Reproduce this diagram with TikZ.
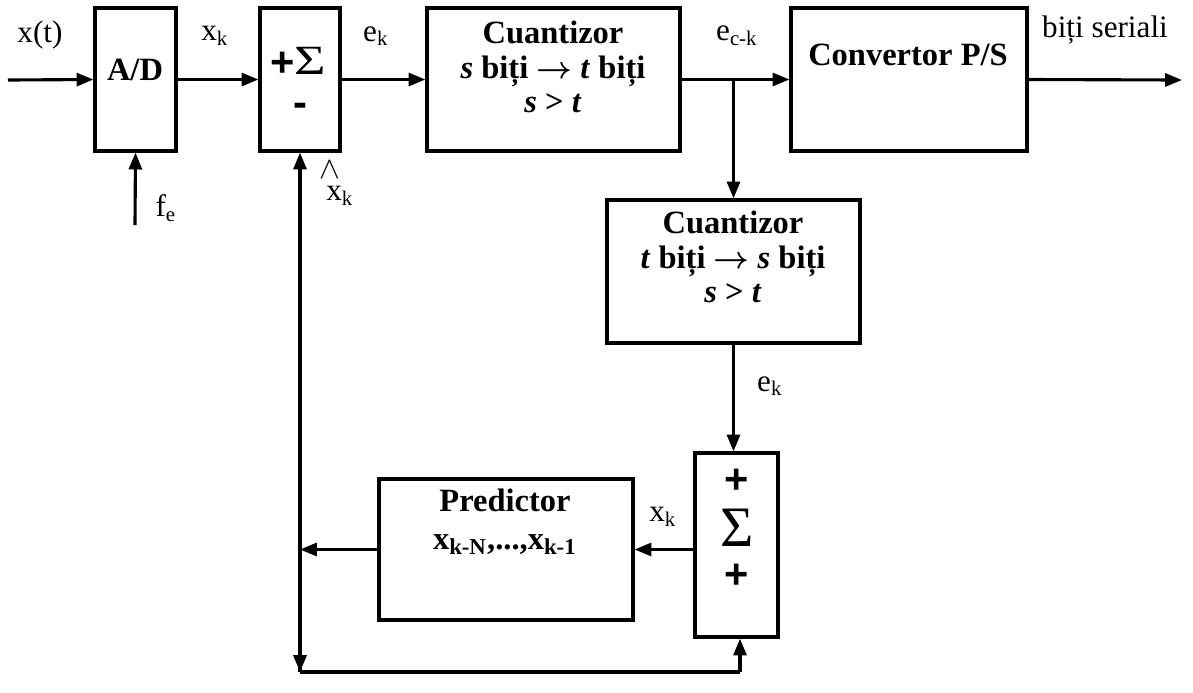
\documentclass[tikz,border=0pt]{standalone}
\usepackage{fontspec}
\setmainfont{Liberation Serif}
\setsansfont{Liberation Sans}
\usepackage{tikz}
\usetikzlibrary{arrows.meta, fit}
\tikzstyle{arrow} = [line width=1.2pt,-{Triangle[length=6.5pt,width=5pt]}]
\tikzstyle{wire} = [line width=1.2pt]
\tikzstyle{block} = [draw, line width=1.2pt, inner sep=0pt]
\tikzstyle{txt} = [inner sep=0pt, font=\fontsize{12pt}{14pt}\selectfont]
\tikzstyle{btxt} = [inner sep=0pt, align=center, font=\fontsize{12.5pt}{13.2pt}\selectfont\bfseries]
\tikzstyle{sgn} = [inner sep=0pt, font=\fontsize{16pt}{16pt}\selectfont\sffamily\bfseries]

\begin{document}
\begin{tikzpicture}[x=0.3846pt, y=-0.3846pt]
                \useasboundingbox (0,0) rectangle (1193,692);

                % blocks
                \node (ad) [block, fit={(95,8) (176,151)}] {};
                \node (sig1) [block, fit={(260,8) (340,151)}] {};
                \node (cq1) [block, fit={(427,8) (680,151)}] {};
                \node (conv) [block, fit={(791,8) (1027,151)}] {};
                \node (cq2) [block, fit={(607,200) (860,343)}] {};
                \node (sig2) [block, fit={(695,453) (778,637)}] {};
                \node (pred) [block, fit={(379,479) (633,620)}] {};

                % texts inside the blocks
                \node (tad) [btxt] at (135,70) {A/D};
                \node (tsig1a) [sgn] at (283,64) {+};
                \node (tsig1b) [txt, font=\fontsize{16pt}{16pt}\selectfont, xscale=1.3] at (310,61) {Σ};
                \node (tsig1c) [sgn] at (300,110) {-};
                \node (tcq1) [btxt] at (553,67) {Cuantizor\\\textit{s} biți {\boldmath$\rightarrow$} \textit{t} biți\\\textit{s} > \textit{t}};
                \node (tconv) [btxt] at (908,55) {Convertor P/S};
                \node (tcq2) [btxt] at (733,257) {Cuantizor\\\textit{t} biți {\boldmath$\rightarrow$} \textit{s} biți\\\textit{s} > \textit{t}};
                \node (tsig2a) [sgn] at (737,481) {+};
                \node (tsig2b) [txt, font=\fontsize{22pt}{22pt}\selectfont] at (737,528) {Σ};
                \node (tsig2c) [sgn] at (737,576) {+};
                \node (tpred) [btxt] at (505,500) {Predictor};
                \node (tpredx) [btxt] at (505,545) {x\textsubscript{k-N},...,x\textsubscript{k-1}};

                % signal labels
                \node (lx) [txt] at (40,35) {x(t)};
                \node (lxk) [txt] at (215,36) {x\textsubscript{k}};
                \node (lek) [txt] at (376,36) {e\textsubscript{k}};
                \node (lec) [txt] at (737,36) {e\textsubscript{c-k}};
                \node (lout) [txt] at (1105,30) {biți seriali};
                \node (lfe) [txt] at (166,208) {f\textsubscript{e}};
                \node (lhat) [txt] at (330,170) {$\wedge$};
                \node (lxh) [txt] at (340,196) {x\textsubscript{k}};
                \node (lek2) [txt] at (770,386) {e\textsubscript{k}};
                \node (lxk2) [txt] at (663,517) {x\textsubscript{k}};

                % free ends and branch points
                \coordinate (xin) at (8,80);
                \coordinate (fein) at (135,225);
                \coordinate (out) at (1182,80);
                \coordinate (br) at (cq2.north |- cq1.east);
                \coordinate (fb) at (sig1.south |- pred.west);
                \coordinate (bl) at (300,672);
                \coordinate (br2) at (740,672);

                % connectors
                \draw [arrow] (xin) -- (ad.west);
                \draw [arrow] (fein) -- (ad.south);
                \draw [arrow] (ad.east) -- (sig1.west);
                \draw [arrow] (sig1.east) -- (cq1.west);
                \draw [arrow] (cq1.east) -- (conv.west);
                \draw [arrow] (conv.east) -- (out);
                \draw [arrow] (br) -- (cq2.north);
                \draw [arrow] (cq2.south) -- (cq2.south |- sig2.north);
                \draw [arrow] (sig2.west |- pred.east) -- (pred.east);
                \draw [arrow] (pred.west) -- (fb);
                \draw [arrow] (bl) -- (sig1.south);
                \draw [arrow] (fb) -- (bl);
                \draw [wire] (bl) -- (br2);
                \draw [arrow] (br2) -- (br2 |- sig2.south);
            \end{tikzpicture}
\end{document}
